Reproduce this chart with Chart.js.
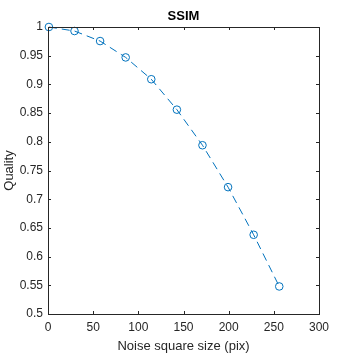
<!DOCTYPE html>
<html><head><meta charset="utf-8">
<script src="https://cdn.jsdelivr.net/npm/chart.js@4"></script>
<style>html,body{margin:0;padding:0;background:#fff}#wrap{width:354px;height:354px}</style>
</head><body><div id="wrap"><canvas id="c" width="354" height="354"></canvas></div>
<script>
const noiseSize = [1, 29.33, 57.67, 86, 114.33, 142.67, 171, 199.33, 227.67, 256];
const quality = [1.0, 0.993, 0.9755, 0.947, 0.909, 0.856, 0.794, 0.721, 0.638, 0.548];
const xTicks = [0, 50, 100, 150, 200, 250, 300];
const yTicks = [0.5, 0.55, 0.6, 0.65, 0.7, 0.75, 0.8, 0.85, 0.9, 0.95, 1];
const chartTitle = 'SSIM';
const xTitle = 'Noise square size (pix)';
const yTitle = 'Quality';

const TXT = '#262626';
const FONT = '"Liberation Sans", Arial, Helvetica, sans-serif';

const boxPlugin = {
  id: 'matlabBox',
  afterDraw(chart) {
    const {ctx, chartArea: a, scales} = chart;
    ctx.save();
    ctx.strokeStyle = TXT;
    ctx.lineWidth = 1;
    ctx.strokeRect(Math.round(a.left) + 0.5, Math.round(a.top) + 0.5,
                   Math.round(a.right - a.left), Math.round(a.bottom - a.top));
    const tl = 3;
    ctx.beginPath();
    xTicks.forEach(v => {
      const x = Math.round(scales.x.getPixelForValue(v)) + 0.5;
      ctx.moveTo(x, a.bottom); ctx.lineTo(x, a.bottom - tl);
      ctx.moveTo(x, a.top); ctx.lineTo(x, a.top + tl);
    });
    yTicks.forEach(v => {
      const y = Math.round(scales.y.getPixelForValue(v)) + 0.5;
      ctx.moveTo(a.left, y); ctx.lineTo(a.left + tl, y);
      ctx.moveTo(a.right, y); ctx.lineTo(a.right - tl, y);
    });
    ctx.stroke();
    ctx.fillStyle = '#000';
    ctx.font = 'bold 13px ' + FONT;
    ctx.textAlign = 'center';
    ctx.textBaseline = 'middle';
    ctx.fillText(chartTitle, (a.left + a.right) / 2, 16);
    ctx.restore();
  }
};

new Chart(document.getElementById('c'), {
  type: 'scatter',
  data: {
    datasets: [{
      data: noiseSize.map((x, i) => ({x, y: quality[i]})),
      showLine: true,
      borderColor: '#0072BD',
      borderWidth: 1,
      borderDash: [8, 5],
      pointStyle: 'circle',
      pointRadius: 3.8,
      pointBorderWidth: 1,
      pointBorderColor: '#0072BD',
      pointBackgroundColor: 'rgba(0,0,0,0)',
      clip: false
    }]
  },
  options: {
    responsive: false,
    animation: false,
    devicePixelRatio: 1,
    layout: {padding: {left: 0, right: 35, top: 27, bottom: 0}},
    plugins: {legend: {display: false}, tooltip: {enabled: false}, title: {display: false}},
    scales: {
      x: {
        type: 'linear', min: 0, max: 300,
        afterBuildTicks: s => { s.ticks = xTicks.map(v => ({value: v})); },
        afterFit: s => { s.height = 40; },
        grid: {display: false, drawTicks: false},
        border: {display: false},
        ticks: {color: TXT, font: {family: FONT, size: 12}, padding: 6, maxRotation: 0,
                callback: v => String(v)},
        title: {display: true, text: xTitle, color: TXT, font: {family: FONT, size: 13},
                padding: {top: 0, bottom: 0}}
      },
      y: {
        type: 'linear', min: 0.5, max: 1,
        afterBuildTicks: s => { s.ticks = yTicks.map(v => ({value: v})); },
        afterFit: s => { s.width = 48; },
        grid: {display: false, drawTicks: false},
        border: {display: false},
        ticks: {color: TXT, font: {family: FONT, size: 12}, padding: 5,
                callback: v => String(+(+v).toFixed(2))},
        title: {display: true, text: yTitle, color: TXT, font: {family: FONT, size: 13},
                padding: {top: 2, bottom: 0}}
      }
    }
  },
  plugins: [boxPlugin]
});
</script>
</body></html>
